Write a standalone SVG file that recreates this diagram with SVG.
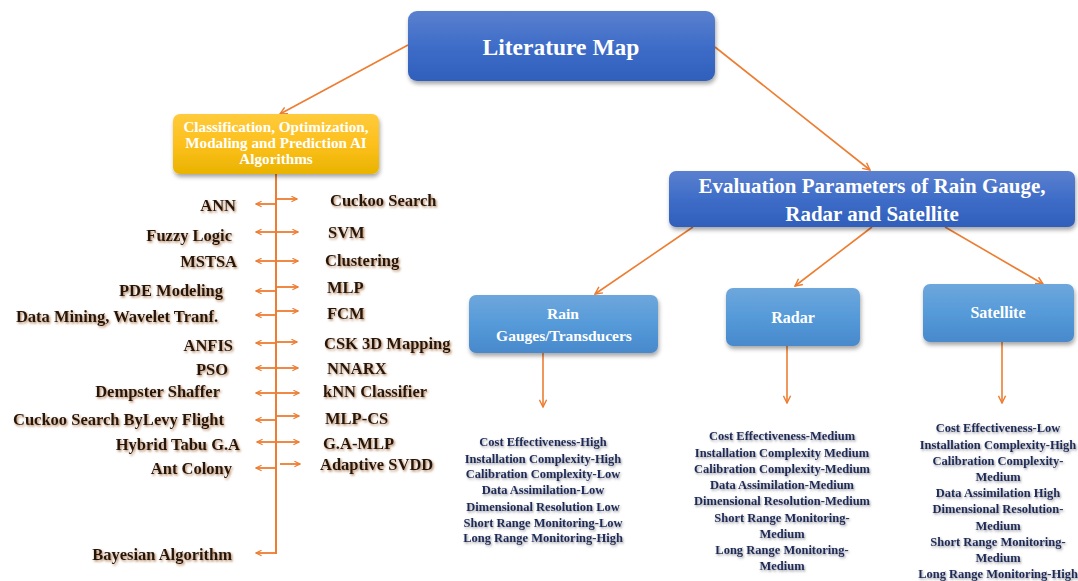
<svg xmlns="http://www.w3.org/2000/svg" width="1078" height="581" viewBox="0 0 1078 581">
<defs>
<linearGradient id="gBlue" x1="0" y1="0" x2="0" y2="1"><stop offset="0" stop-color="#5b80cf"/><stop offset="0.5" stop-color="#3e6dc8"/><stop offset="1" stop-color="#2f5fbb"/></linearGradient>
<linearGradient id="gLight" x1="0" y1="0" x2="0" y2="1"><stop offset="0" stop-color="#6ea7dc"/><stop offset="0.5" stop-color="#559ad9"/><stop offset="1" stop-color="#4889cc"/></linearGradient>
<linearGradient id="gYellow" x1="0" y1="0" x2="0" y2="1"><stop offset="0" stop-color="#ffcb3c"/><stop offset="0.5" stop-color="#fdc01c"/><stop offset="1" stop-color="#e9b300"/></linearGradient>
<filter id="boxShadow" x="-10%" y="-20%" width="120%" height="150%"><feDropShadow dx="1" dy="3" stdDeviation="2" flood-color="#000" flood-opacity="0.35"/></filter>
<filter id="brownShadow" x="-10%" y="-40%" width="120%" height="180%"><feDropShadow dx="1.2" dy="1.5" stdDeviation="1.2" flood-color="#9a5a2a" flood-opacity="0.75"/></filter>
<filter id="navyShadow" x="-10%" y="-40%" width="120%" height="180%"><feDropShadow dx="1" dy="1.5" stdDeviation="1.2" flood-color="#556" flood-opacity="0.6"/></filter>
<marker id="ah" viewBox="0 0 10 10" refX="9" refY="5" markerWidth="9" markerHeight="9" markerUnits="userSpaceOnUse" orient="auto"><path d="M1,1 L9,5 L1,9" fill="none" stroke="#ed7d31" stroke-width="1.6"/></marker>
<marker id="ahs" viewBox="0 0 10 10" refX="9" refY="5" markerWidth="7" markerHeight="7" markerUnits="userSpaceOnUse" orient="auto"><path d="M1,1 L9,5 L1,9" fill="none" stroke="#ed7d31" stroke-width="1.6"/></marker>
</defs>
<style>
.con{stroke:#ed7d31;stroke-width:1.6;fill:none;marker-end:url(#ah)}
.br{stroke:#ed7d31;stroke-width:1.8;fill:none;marker-end:url(#ahs)}
.bt{font-family:"Liberation Serif",serif;font-weight:bold;fill:#fff;text-anchor:middle}
.alg{font-family:"Liberation Serif",serif;font-weight:bold;font-size:16.5px;fill:#24160a;filter:url(#brownShadow)}
.l{text-anchor:end}
.r{text-anchor:start}
.ev{font-family:"Liberation Serif",serif;font-weight:bold;font-size:12.5px;fill:#1d2b57;text-anchor:middle;filter:url(#navyShadow)}
</style>
<rect width="1078" height="581" fill="#fff"/>

<g id="connectors">
<line class="con" x1="408" y1="45" x2="280" y2="114"/>
<line class="con" x1="715" y1="47" x2="870" y2="170"/>
<line class="con" x1="693" y1="227" x2="595" y2="294"/>
<line class="con" x1="872" y1="227" x2="795" y2="286"/>
<line class="con" x1="945" y1="227" x2="1043" y2="284"/>
<line class="con" x1="543" y1="353" x2="543" y2="407"/>
<line class="con" x1="787" y1="346" x2="787" y2="403"/>
<line class="con" x1="1002" y1="342" x2="1002" y2="403"/>
<line x1="276" y1="174" x2="276" y2="554" stroke="#ed7d31" stroke-width="2"/>
<line class="br" x1="275" y1="204" x2="256" y2="204"/>
<line class="br" x1="275" y1="232" x2="256" y2="232"/>
<line class="br" x1="275" y1="261" x2="256" y2="261"/>
<line class="br" x1="275" y1="291" x2="256" y2="291"/>
<line class="br" x1="275" y1="315" x2="256" y2="315"/>
<line class="br" x1="275" y1="343" x2="256" y2="343"/>
<line class="br" x1="275" y1="368" x2="256" y2="368"/>
<line class="br" x1="275" y1="393" x2="256" y2="393"/>
<line class="br" x1="275" y1="420" x2="256" y2="420"/>
<line class="br" x1="275" y1="442" x2="257" y2="442"/>
<line class="br" x1="275" y1="468" x2="256" y2="468"/>
<line class="br" x1="275" y1="553" x2="256" y2="553"/>
<line class="br" x1="277" y1="199" x2="297" y2="199"/>
<line class="br" x1="277" y1="232" x2="298" y2="232"/>
<line class="br" x1="277" y1="261" x2="298" y2="261"/>
<line class="br" x1="277" y1="287" x2="298" y2="287"/>
<line class="br" x1="277" y1="311" x2="298" y2="311"/>
<line class="br" x1="277" y1="342" x2="297" y2="342"/>
<line class="br" x1="277" y1="368" x2="298" y2="368"/>
<line class="br" x1="277" y1="393" x2="299" y2="393"/>
<line class="br" x1="277" y1="416" x2="299" y2="416"/>
<line class="br" x1="277" y1="442" x2="299" y2="442"/>
<line class="br" x1="280" y1="464" x2="300" y2="464"/>
</g>

<g id="literature-map">
<rect x="408" y="11" width="307" height="70" rx="9" fill="url(#gBlue)" filter="url(#boxShadow)"/>
<text class="bt" x="561" y="55" font-size="23.5">Literature Map</text>
</g>

<g id="ai-algorithms">
<rect x="173" y="114" width="206" height="60" rx="7" fill="url(#gYellow)" filter="url(#boxShadow)"/>
<text class="bt" x="276" y="132" font-size="15.2">Classification, Optimization,</text>
<text class="bt" x="276" y="148" font-size="15.2">Modaling and Prediction AI</text>
<text class="bt" x="276" y="164" font-size="15.2">Algorithms</text>
</g>

<g id="evaluation">
<rect x="669" y="171" width="406" height="56" rx="7" fill="url(#gBlue)" filter="url(#boxShadow)"/>
<text class="bt" x="872" y="193" font-size="21">Evaluation Parameters of Rain Gauge,</text>
<text class="bt" x="872" y="221" font-size="21">Radar and Satellite</text>
</g>

<g id="rain-gauges">
<rect x="469" y="295" width="189" height="58" rx="7" fill="url(#gLight)" filter="url(#boxShadow)"/>
<text class="bt" x="563" y="319" font-size="15.5">Rain</text>
<text class="bt" x="564" y="341" font-size="15.5">Gauges/Transducers</text>
</g>

<g id="radar">
<rect x="726" y="288" width="134" height="58" rx="7" fill="url(#gLight)" filter="url(#boxShadow)"/>
<text class="bt" x="793" y="323" font-size="16">Radar</text>
</g>

<g id="satellite">
<rect x="923" y="284" width="151" height="58" rx="7" fill="url(#gLight)" filter="url(#boxShadow)"/>
<text class="bt" x="998" y="318" font-size="16">Satellite</text>
</g>

<g id="algorithms-left">
<text class="alg l" x="236" y="211">ANN</text>
<text class="alg l" x="232" y="241">Fuzzy Logic</text>
<text class="alg l" x="237" y="267">MSTSA</text>
<text class="alg l" x="223" y="296">PDE Modeling</text>
<text class="alg l" x="218" y="322">Data Mining, Wavelet Tranf.</text>
<text class="alg l" x="233" y="351">ANFIS</text>
<text class="alg l" x="228" y="375">PSO</text>
<text class="alg l" x="220" y="397">Dempster Shaffer</text>
<text class="alg l" x="224" y="425">Cuckoo Search ByLevy Flight</text>
<text class="alg l" x="240" y="450">Hybrid Tabu G.A</text>
<text class="alg l" x="232" y="474">Ant Colony</text>
<text class="alg l" x="232" y="560">Bayesian Algorithm</text>
</g>

<g id="algorithms-right">
<text class="alg r" x="330" y="206">Cuckoo Search</text>
<text class="alg r" x="328" y="238">SVM</text>
<text class="alg r" x="325" y="266">Clustering</text>
<text class="alg r" x="327" y="293">MLP</text>
<text class="alg r" x="327" y="319">FCM</text>
<text class="alg r" x="324" y="349">CSK 3D Mapping</text>
<text class="alg r" x="327" y="374">NNARX</text>
<text class="alg r" x="323" y="397">kNN Classifier</text>
<text class="alg r" x="325" y="424">MLP-CS</text>
<text class="alg r" x="323" y="449">G.A-MLP</text>
<text class="alg r" x="320" y="470">Adaptive SVDD</text>
</g>

<g id="rain-list">
<text class="ev" x="543" y="446">Cost Effectiveness-High</text>
<text class="ev" x="543" y="463">Installation Complexity-High</text>
<text class="ev" x="543" y="478">Calibration Complexity-Low</text>
<text class="ev" x="543" y="494">Data Assimilation-Low</text>
<text class="ev" x="543" y="511">Dimensional Resolution Low</text>
<text class="ev" x="543" y="527">Short Range Monitoring-Low</text>
<text class="ev" x="543" y="542">Long Range Monitoring-High</text>
</g>

<g id="radar-list">
<text class="ev" x="782" y="440">Cost Effectiveness-Medium</text>
<text class="ev" x="782" y="457">Installation Complexity Medium</text>
<text class="ev" x="782" y="473">Calibration Complexity-Medium</text>
<text class="ev" x="782" y="489">Data Assimilation-Medium</text>
<text class="ev" x="782" y="505">Dimensional Resolution-Medium</text>
<text class="ev" x="782" y="522">Short Range Monitoring-</text>
<text class="ev" x="782" y="538">Medium</text>
<text class="ev" x="782" y="554">Long Range Monitoring-</text>
<text class="ev" x="782" y="570">Medium</text>
</g>

<g id="satellite-list">
<text class="ev" x="998" y="432">Cost Effectiveness-Low</text>
<text class="ev" x="998" y="449">Installation Complexity-High</text>
<text class="ev" x="998" y="465">Calibration Complexity-</text>
<text class="ev" x="998" y="481">Medium</text>
<text class="ev" x="998" y="497">Data Assimilation High</text>
<text class="ev" x="998" y="513">Dimensional Resolution-</text>
<text class="ev" x="998" y="530">Medium</text>
<text class="ev" x="998" y="546">Short Range Monitoring-</text>
<text class="ev" x="998" y="562">Medium</text>
<text class="ev" x="998" y="578">Long Range Monitoring-High</text>
</g>
</svg>
